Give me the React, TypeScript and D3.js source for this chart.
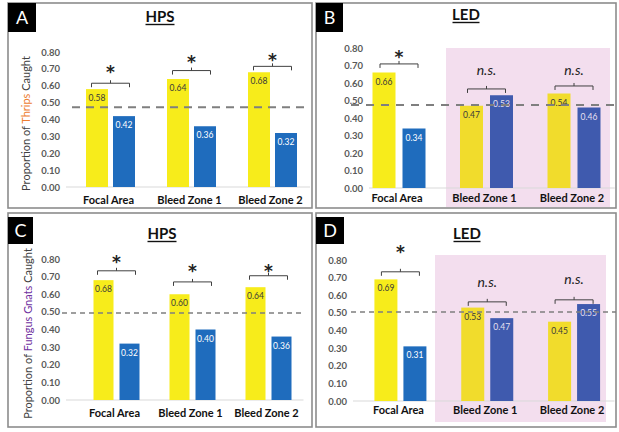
import React from "react";
import * as d3 from "d3";

const categories = ["Focal Area", "Bleed Zone 1", "Bleed Zone 2"];
const yTicks = [0, 0.1, 0.2, 0.3, 0.4, 0.5, 0.6, 0.7, 0.8];

const thripsHpsYellow = [0.58, 0.64, 0.68];
const thripsHpsBlue = [0.42, 0.36, 0.32];
const thripsLedYellow = [0.66, 0.47, 0.54];
const thripsLedBlue = [0.34, 0.53, 0.46];
const gnatsHpsYellow = [0.68, 0.6, 0.64];
const gnatsHpsBlue = [0.32, 0.4, 0.36];
const gnatsLedYellow = [0.69, 0.53, 0.45];
const gnatsLedBlue = [0.31, 0.47, 0.55];

const sigA = ["*", "*", "*"];
const sigB = ["*", "n.s.", "n.s."];
const sigC = ["*", "*", "*"];
const sigD = ["*", "n.s.", "n.s."];

// annotation heights (in proportion units)
const bracketA = [0.615, 0.69, 0.715];
const markA = [0.71, 0.77, 0.78];
const bracketB = [0.709, 0.566, 0.583];
const markB = [0.777, 0.674, 0.674];
const bracketC = [0.733, 0.67, 0.705];
const markC = [0.81, 0.76, 0.76];
const bracketD = [0.733, 0.5625, 0.574];
const markD = [0.875, 0.676, 0.693];

const refA = 0.473;
const refB = 0.474;
const refC = 0.494;
const refD = 0.505;

const YELLOW = "#F7EC1B";
const BLUE = "#1F6CBD";
const YELLOW_P = "#F1DC2C";
const BLUE_P = "#3F5AAE";
const PINK = "#F3DEEE";
const FONT = "Lato, 'Open Sans', sans-serif";

type PanelCfg = {
  letter: string;
  title: string;
  frame: { x: number; y: number; w: number; h: number };
  box: { x: number; y: number; w: number; h: number };
  titleX: number;
  titleY: number;
  xRange: [number, number];
  yRange: [number, number];
  tickX: number;
  barW: number;
  gap: number;
  catY: number;
  dash: { x1: number; x2: number; w: number; arr: string };
  pink?: { x1: number; x2: number; y1: number; y2: number };
  pinkFrom?: number;
  yellow: number[];
  blue: number[];
  sig: string[];
  bracket: number[];
  mark: number[];
  ref: number;
  yLabel?: { x: number; insect: string; color: string };
};

const panels: PanelCfg[] = [
  {
    letter: "A", title: "HPS",
    frame: { x: 8, y: 3, w: 304, h: 205 }, box: { x: 8, y: 3, w: 28, h: 29 },
    titleX: 160, titleY: 22, xRange: [70, 313], yRange: [187, 52], tickX: 60,
    barW: 22, gap: 5, catY: 204,
    dash: { x1: 72, x2: 310, w: 2, arr: "8 6" },
    yellow: thripsHpsYellow, blue: thripsHpsBlue, sig: sigA, bracket: bracketA, mark: markA, ref: refA,
    yLabel: { x: 25, insect: "Thrips", color: "#ED7D31" },
  },
  {
    letter: "B", title: "LED",
    frame: { x: 316, y: 3, w: 300, h: 205 }, box: { x: 316, y: 3, w: 27, h: 29 },
    titleX: 466, titleY: 20, xRange: [355.25, 617.75], yRange: [188, 48], tickX: 363,
    barW: 23, gap: 7, catY: 202,
    dash: { x1: 351, x2: 616, w: 2, arr: "8 7" },
    pink: { x1: 446, x2: 610, y1: 48, y2: 207 }, pinkFrom: 1,
    yellow: thripsLedYellow, blue: thripsLedBlue, sig: sigB, bracket: bracketB, mark: markB, ref: refB,
  },
  {
    letter: "C", title: "HPS",
    frame: { x: 8, y: 213, w: 304, h: 214 }, box: { x: 8, y: 217, w: 25, h: 27 },
    titleX: 162, titleY: 239, xRange: [78.5, 306.5], yRange: [400, 259], tickX: 60,
    barW: 20, gap: 6, catY: 417,
    dash: { x1: 62, x2: 305, w: 1.5, arr: "5 4" },
    yellow: gnatsHpsYellow, blue: gnatsHpsBlue, sig: sigC, bracket: bracketC, mark: markC, ref: refC,
    yLabel: { x: 27, insect: "Fungus Gnats", color: "#7030A0" },
  },
  {
    letter: "D", title: "LED",
    frame: { x: 316, y: 213, w: 300, h: 214 }, box: { x: 316, y: 217, w: 28, h: 27 },
    titleX: 467, titleY: 239, xRange: [357, 617.5], yRange: [401, 260], tickX: 347,
    barW: 23, gap: 6, catY: 414,
    dash: { x1: 351, x2: 616, w: 1.5, arr: "5 4" },
    pink: { x1: 435, x2: 606, y1: 255, y2: 422 }, pinkFrom: 1,
    yellow: gnatsLedYellow, blue: gnatsLedBlue, sig: sigD, bracket: bracketD, mark: markD, ref: refD,
  },
];

function Panel({ p }: { p: PanelCfg }) {
  const x = d3.scaleBand<string>().domain(categories).range(p.xRange).padding(0);
  const y = d3.scaleLinear().domain([0, 0.8]).range(p.yRange);
  const step = x.step();
  const titleW = p.title === "HPS" ? 29 : 27;
  return (
    <g>
      {p.pink && (
        <rect x={p.pink.x1} y={p.pink.y1} width={p.pink.x2 - p.pink.x1} height={p.pink.y2 - p.pink.y1} fill={PINK} />
      )}
      <rect x={p.frame.x} y={p.frame.y} width={p.frame.w} height={p.frame.h} fill="none" stroke="#8c8c8c" strokeWidth={1.6} />
      <rect x={p.box.x} y={p.box.y} width={p.box.w} height={p.box.h} fill="#000" />
      <text x={p.box.x + p.box.w / 2} y={p.box.y + p.box.h / 2 + 6.5} textAnchor="middle" fill="#fff" fontFamily={FONT} fontSize={18}>
        {p.letter}
      </text>
      <text x={p.titleX} y={p.titleY} textAnchor="middle" fontFamily={FONT} fontWeight={700} fontSize={15} fill="#111">
        {p.title}
      </text>
      <line x1={p.titleX - titleW / 2} x2={p.titleX + titleW / 2} y1={p.titleY + 2.5} y2={p.titleY + 2.5} stroke="#111" strokeWidth={1.4} />
      {yTicks.map((t) => (
        <text key={t} x={p.tickX} y={y(t) + 3.5} textAnchor="end" fontFamily={FONT} fontWeight={700} fontSize={9.5} fill="#595959">
          {t.toFixed(2)}
        </text>
      ))}
      <line x1={p.tickX + 6} x2={p.xRange[1] - 3} y1={y(0)} y2={y(0)} stroke="#d9d9d9" strokeWidth={1} />
      {p.yLabel && (
        <text transform={`translate(${p.yLabel.x},${(p.yRange[0] + p.yRange[1]) / 2 + 4}) rotate(-90)`} textAnchor="middle"
          fontFamily={FONT} fontSize={11} fill="#404040" dominantBaseline="central">
          Proportion of <tspan fill={p.yLabel.color}>{p.yLabel.insect}</tspan> Caught
        </text>
      )}
      {categories.map((c, i) => {
        const cx = (x(c) as number) + step / 2;
        const inPink = p.pinkFrom !== undefined && i >= p.pinkFrom;
        const yx = cx - p.gap / 2 - p.barW;
        const bx = cx + p.gap / 2;
        const yv = p.yellow[i];
        const bv = p.blue[i];
        const by = y(p.bracket[i]);
        const bl = cx - 19;
        const br = cx + 19;
        const isStar = p.sig[i] === "*";
        return (
          <g key={c}>
            <rect x={yx} y={y(yv)} width={p.barW} height={y(0) - y(yv)} fill={inPink ? YELLOW_P : YELLOW} />
            <rect x={bx} y={y(bv)} width={p.barW} height={y(0) - y(bv)} fill={inPink ? BLUE_P : BLUE} />
            <text x={yx + p.barW / 2} y={y(yv) + 12} textAnchor="middle" fontFamily={FONT} fontSize={8.5} fill="#3a3a3a">
              {yv.toFixed(2)}
            </text>
            <text x={bx + p.barW / 2} y={y(bv) + 12} textAnchor="middle" fontFamily={FONT} fontSize={8.5} fill={inPink ? "#e8e0f0" : "#fff"}>
              {bv.toFixed(2)}
            </text>
            <path d={`M${bl},${by + 4}V${by}H${br}V${by + 4}M${cx},${by}V${by - 3}`} fill="none" stroke="#404040" strokeWidth={1} />
            {isStar ? (
              <text x={cx} y={y(p.mark[i]) + 11} textAnchor="middle" fontFamily="'DejaVu Sans', sans-serif" fontWeight={700} fontSize={17} fill="#222">*</text>
            ) : (
              <text x={cx} y={y(p.mark[i]) + 5} textAnchor="middle" fontFamily={FONT} fontStyle="italic" fontSize={14} fill="#222">{p.sig[i]}</text>
            )}
            <text x={cx - 2} y={p.catY} textAnchor="middle" fontFamily={FONT} fontWeight={700} fontSize={11} fill="#111">
              {c}
            </text>
          </g>
        );
      })}
      <line x1={p.dash.x1} x2={p.dash.x2} y1={y(p.ref)} y2={y(p.ref)} stroke="#7f7f7f" strokeWidth={p.dash.w} strokeDasharray={p.dash.arr} />
    </g>
  );
}

export default function App() {
  return (
    <svg width={619} height={432} style={{ position: "absolute", left: 0, top: 0, background: "#fff" }}>
      <rect x={0} y={0} width={619} height={432} fill="#fff" />
      {panels.map((p) => (
        <Panel key={p.letter} p={p} />
      ))}
    </svg>
  );
}
